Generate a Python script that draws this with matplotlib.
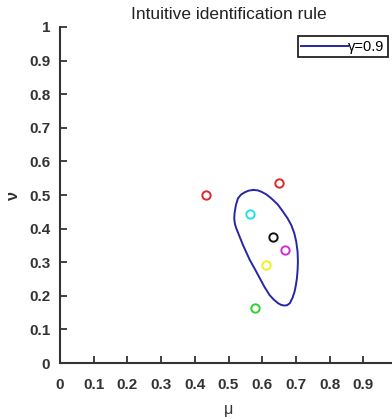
import matplotlib
matplotlib.use("Agg")
import matplotlib.pyplot as plt

plt.rcParams['font.family'] = ['Liberation Sans', 'DejaVu Sans']

# Data
point_mu = [0.433, 0.650, 0.564, 0.632, 0.668, 0.611, 0.579]
point_nu = [0.500, 0.536, 0.443, 0.375, 0.336, 0.292, 0.164]
point_colors = ['#e02828', '#e02828', '#22e0e8', '#111111', '#d030d0', '#f0f020', '#30d030']

curve_mu = [0.573, 0.586, 0.597, 0.612, 0.627, 0.646, 0.662, 0.675, 0.686, 0.695, 0.701, 0.705, 0.706,
            0.705, 0.703, 0.700, 0.696, 0.690, 0.682, 0.674, 0.665, 0.656, 0.647, 0.634, 0.622, 0.607,
            0.593, 0.578, 0.563, 0.553, 0.543, 0.533, 0.523, 0.519, 0.517, 0.518, 0.522, 0.528, 0.537,
            0.548, 0.560, 0.573]
curve_nu = [0.515, 0.514, 0.510, 0.502, 0.490, 0.472, 0.450, 0.431, 0.411, 0.387, 0.361, 0.331, 0.301,
            0.276, 0.252, 0.232, 0.212, 0.194, 0.178, 0.172, 0.171, 0.173, 0.178, 0.189, 0.202, 0.226,
            0.252, 0.280, 0.307, 0.329, 0.351, 0.376, 0.401, 0.414, 0.430, 0.446, 0.470, 0.490, 0.501,
            0.508, 0.513, 0.515]
curve_label = 'γ=0.9'

x_ticks = [0, 0.1, 0.2, 0.3, 0.4, 0.5, 0.6, 0.7, 0.8, 0.9, 1]
x_tick_labels = ['0', '0.1', '0.2', '0.3', '0.4', '0.5', '0.6', '0.7', '0.8', '0.9', '']
y_ticks = [0, 0.1, 0.2, 0.3, 0.4, 0.5, 0.6, 0.7, 0.8, 0.9, 1]
y_tick_labels = ['0', '0.1', '0.2', '0.3', '0.4', '0.5', '0.6', '0.7', '0.8', '0.9', '1']

W, H = 392, 419
fig = plt.figure(figsize=(W / 100, H / 100), dpi=100)
ax = fig.add_axes([60 / W, 56 / H, 337 / W, 336 / H])

ax.plot(curve_mu, curve_nu, color='#2626a6', lw=1.4, label=curve_label)
for m, n, c in zip(point_mu, point_nu, point_colors):
    ax.plot(m, n, 'o', mfc='none', mec=c, ms=6, mew=1.4)

ax.set_xlim(0, 1)
ax.set_ylim(0, 1)
ax.set_xticks(x_ticks)
ax.set_xticklabels(x_tick_labels)
ax.set_yticks(y_ticks)
ax.set_yticklabels(y_tick_labels)
for s in ['top', 'right']:
    ax.spines[s].set_visible(False)
for s in ['left', 'bottom']:
    ax.spines[s].set_color('#333333')
    ax.spines[s].set_linewidth(1.5)
ax.tick_params(direction='in', length=5, width=1.3, color='#333333',
               labelcolor='#333333', labelsize=11)
ax.tick_params(axis='x', pad=11)
ax.tick_params(axis='y', pad=7)
for lbl in ax.get_xticklabels() + ax.get_yticklabels():
    lbl.set_fontweight('bold')

ax.set_title('Intuitive identification rule', fontsize=12.5, color='#222222', pad=6)
ax.set_xlabel('μ', fontsize=11.5, color='#333333', labelpad=7)
ax.set_ylabel('ν', fontsize=11.5, fontweight='bold', color='#333333', rotation=90, labelpad=6)

leg = ax.legend(loc='upper right', bbox_to_anchor=(328 / 337, 327 / 336), fontsize=10.5,
                frameon=True, fancybox=False, edgecolor='#222222', framealpha=1,
                handlelength=3.2, handletextpad=0.0, borderpad=0.25, borderaxespad=0)
leg.get_frame().set_linewidth(1.3)

fig.savefig('out.png', dpi=100)
